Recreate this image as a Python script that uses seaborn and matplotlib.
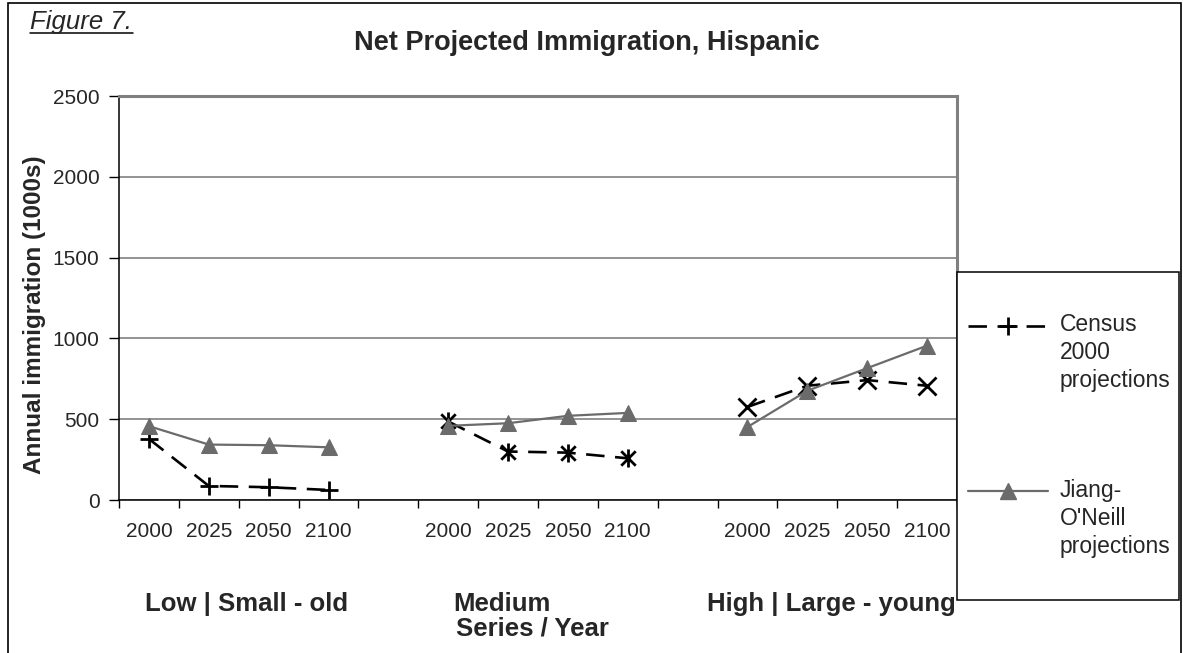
import matplotlib.pyplot as plt
import seaborn as sns
import numpy as np
import pandas as pd
from matplotlib.path import Path
from matplotlib.lines import Line2D
from matplotlib.patches import Rectangle

# values (1000s per year)
years = ["2000", "2025", "2050", "2100"]
groups = ["Low | Small - old", "Medium", "High | Large - young"]
census_low = [378, 87, 79, 62]
census_medium = [486, 300, 293, 258]
census_high = [576, 707, 742, 707]
jiang_low = [457, 343, 339, 326]
jiang_medium = [459, 475, 521, 539]
jiang_high = [452, 676, 816, 955]

census = [census_low, census_medium, census_high]
jiang = [jiang_low, jiang_medium, jiang_high]

rows = []
for g, name in enumerate(groups):
    for i, yr in enumerate(years):
        pos = g * 5 + i
        rows.append({"group": name, "year": yr, "pos": pos, "series": "Census", "value": census[g][i]})
        rows.append({"group": name, "year": yr, "pos": pos, "series": "Jiang", "value": jiang[g][i]})
df = pd.DataFrame(rows)

sns.set_style("white")
plt.rcParams["font.family"] = ["Liberation Sans", "DejaVu Sans"]

# Excel style asterisk: an x with a vertical bar through it
asterisk = Path([(-1, -1), (1, 1), (-1, 1), (1, -1), (0, -1.25), (0, 1.25)],
                [Path.MOVETO, Path.LINETO] * 3)
census_markers = ["+", asterisk, "x"]
dash = (0, (7, 4))

W, H = 1183, 653
fig = plt.figure(figsize=(W / 100, H / 100), dpi=100)
ax = fig.add_axes([119 / W, 1 - 500 / H, (957 - 119) / W, (500 - 96) / H])

gray = "#6b6b6b"
for g, name in enumerate(groups):
    sub = df[df["group"] == name]
    sns.lineplot(data=sub[sub["series"] == "Census"], x="pos", y="value", ax=ax,
                 color="black", lw=1.9, linestyle=dash,
                 marker=census_markers[g], markersize=13, mew=2,
                 mec="black", legend=False, zorder=3)
    sns.lineplot(data=sub[sub["series"] == "Jiang"], x="pos", y="value", ax=ax,
                 color=gray, lw=1.6, marker="^", markersize=11,
                 mec=gray, mfc=gray, legend=False, zorder=4)

ax.set_xlim(-0.5, 13.5)
ax.set_ylim(0, 2500)
ax.set_yticks(np.arange(0, 2501, 500))
ax.yaxis.grid(True, color="#808080", lw=1.2)
ax.xaxis.grid(False)

# category labels at slot centres, tick marks at slot boundaries
label_pos = df["pos"].unique()
ax.set_xticks(np.arange(-0.5, 14, 1))
ax.set_xticklabels([])
ax.set_xticks(label_pos, minor=True)
ax.set_xticklabels(years * 3, minor=True, fontsize=15)
ax.tick_params(axis="x", which="major", direction="out", length=6, width=1, color="black", bottom=True)
ax.tick_params(axis="x", which="minor", length=0, pad=16)
ax.tick_params(axis="y", direction="out", length=7, width=1, color="black", left=True, labelsize=15, pad=7)
ax.set_xlabel("")
ax.set_ylabel("")

for s in ["left", "bottom"]:
    ax.spines[s].set_color("black")
    ax.spines[s].set_linewidth(1.1)
for s in ["top", "right"]:
    ax.spines[s].set_color("#808080")
    ax.spines[s].set_linewidth(2.2)


def px(x, y):
    return x / W, 1 - y / H


# group labels under the year labels
fig.text(*px(247, 611), groups[0], ha="center", va="baseline", fontsize=18.5, fontweight="bold")
fig.text(*px(453, 611), groups[1], ha="left", va="baseline", fontsize=18.5, fontweight="bold")
fig.text(*px(956, 611), groups[2], ha="right", va="baseline", fontsize=18.5, fontweight="bold")
fig.text(*px(456, 636), "Series / Year", ha="left", va="baseline", fontsize=18.5, fontweight="bold")

fig.text(*px(35, 315), "Annual immigration (1000s)", rotation=90,
         ha="center", va="center", fontsize=17.5, fontweight="bold")
fig.text(*px(587, 50), "Net Projected Immigration, Hispanic",
         ha="center", va="baseline", fontsize=19.5, fontweight="bold")
fig.text(*px(30, 29), "Figure 7.", ha="left", va="baseline",
         fontsize=18.5, style="italic")
fig.add_artist(Line2D([30 / W, 133 / W], [1 - 33 / H, 1 - 33 / H], color="black", lw=1.1))

# outer frame of the chart object
fig.add_artist(Rectangle((8 / W, -0.05), (1181 - 8) / W, 1.05 - 3 / H,
                         transform=fig.transFigure, fill=False, ec="black", lw=1.2))

# legend box drawn the way Excel lays it out
fig.add_artist(Rectangle(px(957, 600), (1179 - 957) / W, (600 - 272) / H,
                         transform=fig.transFigure, fill=True, fc="white", ec="black", lw=1.1, zorder=5))
fig.add_artist(Line2D([968 / W, 1008 / W, 1048 / W], [1 - 326 / H] * 3, color="black", lw=1.9,
                      linestyle=dash, marker="+", markersize=13, mew=2,
                      markevery=[1], zorder=6))
fig.add_artist(Line2D([968 / W, 1008 / W, 1048 / W], [1 - 491 / H] * 3, color=gray, lw=1.6,
                      marker="^", markersize=11, mfc=gray, mec=gray, markevery=[1], zorder=6))
fig.text(*px(1060, 313), "Census\n2000\nprojections", ha="left", va="top",
         fontsize=16.5, linespacing=1.28, zorder=7)
fig.text(*px(1060, 479), "Jiang-\nO'Neill\nprojections", ha="left", va="top",
         fontsize=16.5, linespacing=1.28, zorder=7)

plt.savefig("out.png", dpi=100)
